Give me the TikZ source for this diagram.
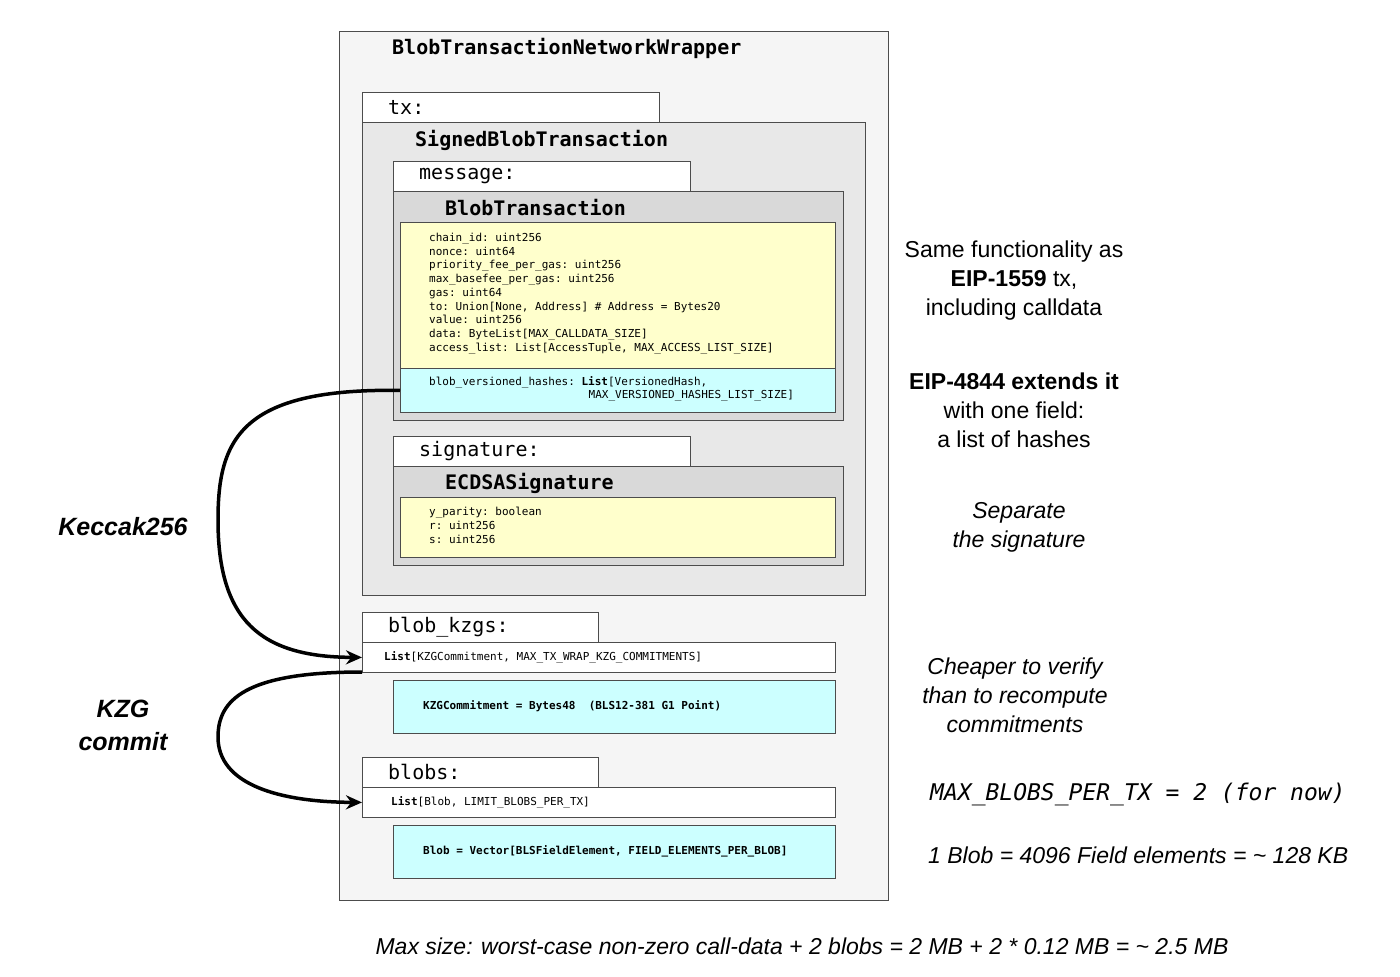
\documentclass[tikz,border=0pt]{standalone}
\usepackage{fontspec}
\setmainfont{Liberation Sans}
\setmonofont{DejaVu Sans Mono}
\usetikzlibrary{arrows.meta,positioning}
\definecolor{codeyellow}{RGB}{255,255,204}
\definecolor{codecyan}{RGB}{204,255,255}

\begin{document}
\begin{tikzpicture}[x=1pt,y=-1pt,
    box/.style={rectangle, draw=black!70, line width=0.8pt, anchor=north west, inner sep=0pt},
    tab/.style={box, fill=white, minimum height=30pt},
    code/.style={anchor=west, font=\fontsize{11}{13.7}\selectfont\ttfamily, align=left, inner sep=0pt},
    label/.style={anchor=west, font=\fontsize{20}{22}\selectfont\ttfamily, inner sep=0pt},
    head/.style={anchor=west, font=\fontsize{20}{22}\selectfont\ttfamily\bfseries, inner sep=0pt},
    note/.style={font=\fontsize{23}{29}\selectfont, align=center},
    arrow/.style={-{Stealth[length=16pt,width=14pt]}, line width=3.5pt}
]
\useasboundingbox (0,0) rectangle (1400,977);

% wrapper
\node[box, fill=black!4, minimum width=549pt, minimum height=869pt] (wrap) at (339,31) {};
\node[head] (wraptitle) at (392,48) {BlobTransactionNetworkWrapper};

% tx
\node[tab, minimum width=297pt] (txtab) at (362,92) {};
\node[label] at (388,107) {tx:};
\node[box, fill=black!9, minimum width=503pt, minimum height=473pt] (signed) at (362,122) {};
\node[head] at (415,140) {SignedBlobTransaction};

% message
\node[tab, minimum width=297pt] (msgtab) at (393,161) {};
\node[label] at (419,176) {message:};
\node[box, fill=black!15, minimum width=450pt, minimum height=229pt] (blobtx) at (393,191) {};
\node[head] at (445,208) {BlobTransaction};
\node[box, fill=codeyellow, minimum width=435pt, minimum height=146pt] (fields) at (400,222) {};
\node[code, anchor=north west] at (429,233) {chain\_id: uint256\\nonce: uint64\\priority\_fee\_per\_gas: uint256\\max\_basefee\_per\_gas: uint256\\gas: uint64\\to: Union[None, Address] \# Address = Bytes20\\value: uint256\\data: ByteList[MAX\_CALLDATA\_SIZE]\\access\_list: List[AccessTuple, MAX\_ACCESS\_LIST\_SIZE]};
\node[box, fill=codecyan, minimum width=435pt, minimum height=44pt] (hashes) at (400,368) {};
\node[code, anchor=north west] at (429,376) {blob\_versioned\_hashes: \textbf{List}[VersionedHash,\\\hspace*{14.5em}MAX\_VERSIONED\_HASHES\_LIST\_SIZE]};

% signature
\node[tab, minimum width=297pt] (sigtab) at (393,436) {};
\node[label] at (419,451) {signature:};
\node[box, fill=black!15, minimum width=450pt, minimum height=99pt] (ecdsa) at (393,466) {};
\node[head] at (445,483) {ECDSASignature};
\node[box, fill=codeyellow, minimum width=435pt, minimum height=60pt] (sigfields) at (400,497) {};
\node[code, anchor=north west] at (429,507) {y\_parity: boolean\\r: uint256\\s: uint256};

% blob_kzgs
\node[tab, minimum width=236pt] (kzgtab) at (362,612) {};
\node[label] at (388,627) {blob\_kzgs:};
\node[box, fill=white, minimum width=473pt, minimum height=30pt] (kzglist) at (362,642) {};
\node[code] at (384,657) {\textbf{List}[KZGCommitment, MAX\_TX\_WRAP\_KZG\_COMMITMENTS]};
\node[box, fill=codecyan, minimum width=442pt, minimum height=53pt] (kzgdef) at (393,680) {};
\node[code, font=\fontsize{11}{13}\selectfont\ttfamily\bfseries] at (423,706) {KZGCommitment = Bytes48~~(BLS12-381 G1 Point)};

% blobs
\node[tab, minimum width=236pt] (blobtab) at (362,757) {};
\node[label] at (388,772) {blobs:};
\node[box, fill=white, minimum width=473pt, minimum height=30pt] (bloblist) at (362,787) {};
\node[code] at (391,802) {\textbf{List}[Blob, LIMIT\_BLOBS\_PER\_TX]};
\node[box, fill=codecyan, minimum width=442pt, minimum height=53pt] (blobdef) at (393,825) {};
\node[code, font=\fontsize{11}{13}\selectfont\ttfamily\bfseries] at (423,851) {Blob = Vector[BLSFieldElement, FIELD\_ELEMENTS\_PER\_BLOB]};

% arrows
\coordinate (kzgout) at (362,672);
\draw[arrow] (hashes.west) .. controls (240,388) and (218,440) .. (218,520)
    .. controls (218,620) and (260,657) .. (kzglist.west);
\draw[arrow] (kzgout) .. controls (245,672) and (218,700) .. (218,737)
    .. controls (218,785) and (280,802) .. (bloblist.west);
\node[note, font=\fontsize{25}{30}\selectfont\bfseries\itshape] (keccak) at (123,527) {Keccak256};
\node[note, font=\fontsize{25}{33}\selectfont\bfseries\itshape] (kzgcommit) at (123,725) {KZG\\commit};

% notes
\node[note] (same) at (1014,281) {Same functionality as\\\textbf{EIP-1559} tx,\\including calldata};
\node[note] (extends) at (1014,410) {\textbf{EIP-4844 extends it}\\with one field:\\a list of hashes};
\node[note, font=\fontsize{23}{29}\selectfont\itshape] (separate) at (1019,527) {Separate\\the signature};
\node[note, font=\fontsize{23}{29}\selectfont\itshape] (cheaper) at (1015,695) {Cheaper to verify\\than to recompute\\commitments};
\node[anchor=west, inner sep=0pt, font=\fontsize{23}{26}\selectfont\ttfamily\itshape] (maxblobs) at (930,794) {MAX\_BLOBS\_PER\_TX = 2 (for now)};
\node[anchor=west, inner sep=0pt, font=\fontsize{23}{26}\selectfont\itshape] (oneblob) at (928,855) {1 Blob = 4096 Field elements = \textasciitilde{} 128 KB};
\node[inner sep=0pt, font=\fontsize{23}{26}\selectfont\itshape] (maxsize) at (802,946) {Max size: worst-case non-zero call-data + 2 blobs = 2 MB + 2 * 0.12 MB = \textasciitilde{} 2.5 MB};
\end{tikzpicture}
\end{document}
